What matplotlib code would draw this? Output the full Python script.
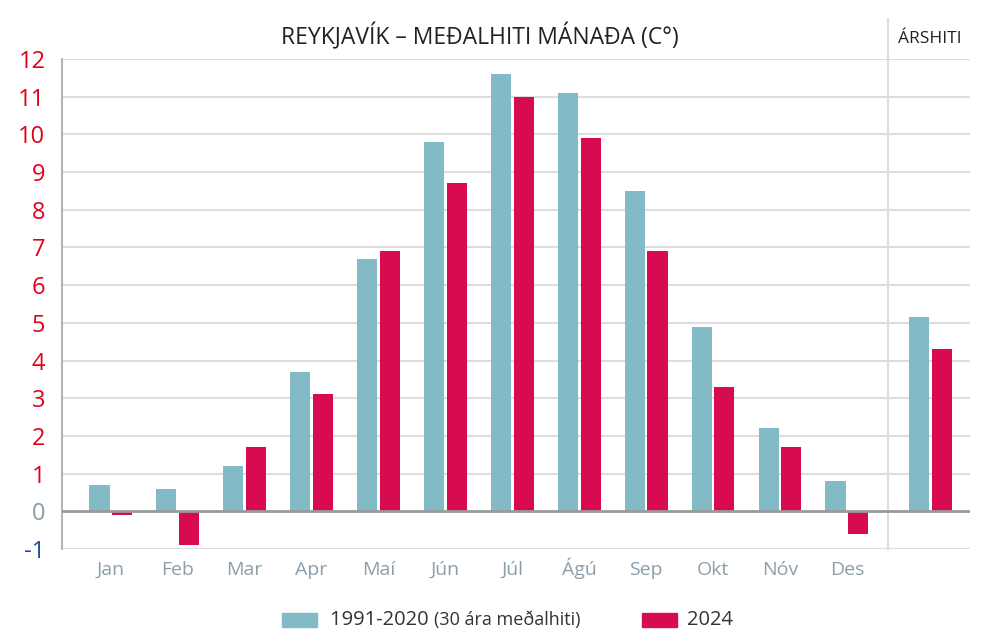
import matplotlib.pyplot as plt
from matplotlib.patches import Rectangle
import numpy as np

# Meðalhiti mánaða í Reykjavík
manudir = ['Jan', 'Feb', 'Mar', 'Apr', 'Maí', 'Jún', 'Júl', 'Ágú', 'Sep', 'Okt', 'Nóv', 'Des']
medal_1991_2020 = [0.7, 0.6, 1.2, 3.7, 6.7, 9.8, 11.6, 11.1, 8.5, 4.9, 2.2, 0.8]
hiti_2024 = [-0.1, -0.9, 1.7, 3.1, 6.9, 8.7, 11.0, 9.9, 6.9, 3.3, 1.7, -0.6]
arshiti_1991_2020 = 5.15
arshiti_2024 = 4.3
yticks = list(range(-1, 13))

teal = '#82bac6'
pink = '#d80b52'
red = '#e2001a'
grar = '#8c9ea8'
font = ['Open Sans', 'DejaVu Sans']

fig = plt.figure(figsize=(10, 6.43), dpi=100)
ax = fig.add_axes([0.062, 1 - 549 / 643, 0.908, (549 - 59) / 643])

x = np.arange(len(manudir))
w = 0.3
ax.bar(x - 0.17, medal_1991_2020, w, color=teal, zorder=3)
ax.bar(x + 0.17, hiti_2024, w, color=pink, zorder=3)
xa = 12.25
ax.bar(xa - 0.17, arshiti_1991_2020, w, color=teal, zorder=3)
ax.bar(xa + 0.17, arshiti_2024, w, color=pink, zorder=3)

ax.set_xlim(-0.73, 12.84)
ax.set_ylim(-1, 12)
for t in yticks:
    if t == 0:
        ax.axhline(0, color='#9a9a9a', lw=2, zorder=4)
    else:
        ax.axhline(t, color='#dddddd', lw=1.5, zorder=1)

for s in ['top', 'right', 'bottom']:
    ax.spines[s].set_visible(False)
ax.spines['left'].set_color('#b5b5b5')
ax.spines['left'].set_linewidth(1.5)

ax.set_yticks(yticks)
ax.set_yticklabels([str(t) for t in yticks], fontsize=17, family=font)
for t, lbl in zip(yticks, ax.get_yticklabels()):
    lbl.set_color(red if t > 0 else ('#8a9ba5' if t == 0 else '#1a4f9c'))
ax.tick_params(axis='y', length=0, pad=12)

ax.set_xticks(x)
ax.set_xticklabels(manudir, fontsize=14, color=grar, family=font)
for lbl in ax.get_xticklabels():
    lbl.set_verticalalignment('baseline')
ax.tick_params(axis='x', length=0, pad=18.5)

# skillilína milli mánaða og árshita
ax.plot([11.61, 11.61], [-1, 13.05], color='#dddddd', lw=1.5, clip_on=False, zorder=1)

fig.text(0.48, 0.943, 'REYKJAVÍK – MEÐALHITI MÁNAÐA (C°)', ha='center', va='center',
         fontsize=16.5, color='#222222', family=font)
fig.text(0.930, 0.94, 'ÁRSHITI', ha='center', va='center', fontsize=12.5,
         color='#222222', family=font)

# skýringar
fig.patches.append(Rectangle((0.282, 1 - 627 / 643), 0.035, 14 / 643, color=teal,
                             transform=fig.transFigure))
t1 = fig.text(0.330, 1 - 620 / 643, '1991-2020 ', ha='left', va='center', fontsize=14.5,
              color='#333333', family=font)
fig.canvas.draw()
bb = t1.get_window_extent()
fig.text(bb.x1 / 1000, 1 - 620 / 643, '(30 ára meðalhiti)', ha='left', va='center',
         fontsize=13, color='#333333', family=font)
fig.patches.append(Rectangle((0.642, 1 - 627 / 643), 0.035, 14 / 643, color=pink,
                             transform=fig.transFigure))
fig.text(0.687, 1 - 620 / 643, '2024', ha='left', va='center', fontsize=14.5,
         color='#333333', family=font)

fig.savefig('out.png', dpi=100)
